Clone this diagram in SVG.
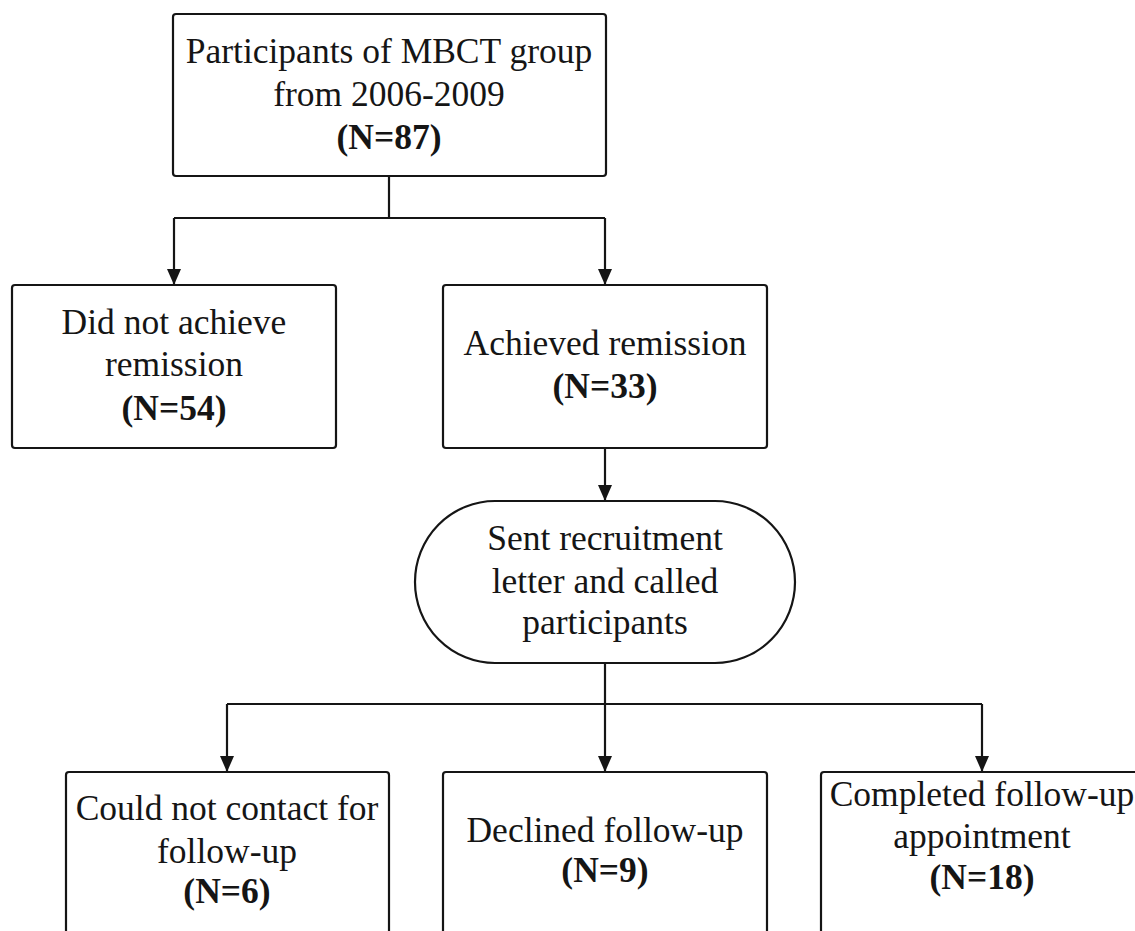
<svg xmlns="http://www.w3.org/2000/svg" width="1135" height="931" viewBox="0 0 1135 931">
<style>
.box{fill:#fff;stroke:#151515;stroke-width:2.2}
.ln{fill:none;stroke:#151515;stroke-width:2.2}
text{font-family:"Liberation Serif","Times New Roman",serif;font-size:35.5px;fill:#151515;text-anchor:middle}
.b{font-weight:bold}
</style>
<defs>
<marker id="ah" viewBox="0 0 16 14" refX="16" refY="7" markerWidth="16" markerHeight="14" markerUnits="userSpaceOnUse" orient="auto">
<path d="M0,0 L16,7 L0,14 Z" fill="#151515"/>
</marker>
</defs>
<rect width="1135" height="931" fill="#fff"/>
<g id="connectors">
<path class="ln" d="M389,176 V218 M174,218 H605"/>
<path class="ln" d="M174,218 V285" marker-end="url(#ah)"/>
<path class="ln" d="M605,218 V285" marker-end="url(#ah)"/>
<path class="ln" d="M605,448 V501" marker-end="url(#ah)"/>
<path class="ln" d="M605,663 V704 M227,704 H982"/>
<path class="ln" d="M227,704 V772" marker-end="url(#ah)"/>
<path class="ln" d="M605,704 V772" marker-end="url(#ah)"/>
<path class="ln" d="M982,704 V772" marker-end="url(#ah)"/>
</g>
<g id="participants">
<rect class="box" x="173" y="14" width="433" height="162" rx="3"/>
<text x="389" y="63">Participants of MBCT group</text>
<text x="389" y="106">from 2006-2009</text>
<text x="389" y="149" class="b">(N=87)</text>
</g>
<g id="no-remission">
<rect class="box" x="12" y="285" width="324" height="163" rx="3"/>
<text x="174" y="334">Did not achieve</text>
<text x="174" y="376">remission</text>
<text x="174" y="420" class="b">(N=54)</text>
</g>
<g id="remission">
<rect class="box" x="443" y="285" width="324" height="163" rx="3"/>
<text x="605" y="355">Achieved remission</text>
<text x="605" y="398" class="b">(N=33)</text>
</g>
<g id="recruitment">
<rect class="box" x="415" y="501" width="380" height="162" rx="80" ry="81"/>
<text x="605" y="550">Sent recruitment</text>
<text x="605" y="593">letter and called</text>
<text x="605" y="634">participants</text>
</g>
<g id="not-contacted">
<rect class="box" x="66" y="772" width="323" height="200" rx="3"/>
<text x="227" y="820">Could not contact for</text>
<text x="227" y="863">follow-up</text>
<text x="227" y="903" class="b">(N=6)</text>
</g>
<g id="declined">
<rect class="box" x="443" y="772" width="324" height="200" rx="3"/>
<text x="605" y="842">Declined follow-up</text>
<text x="605" y="882" class="b">(N=9)</text>
</g>
<g id="completed">
<rect class="box" x="821" y="772" width="323" height="200" rx="3"/>
<text x="982" y="806">Completed follow-up</text>
<text x="982" y="848">appointment</text>
<text x="982" y="889" class="b">(N=18)</text>
</g>
</svg>
